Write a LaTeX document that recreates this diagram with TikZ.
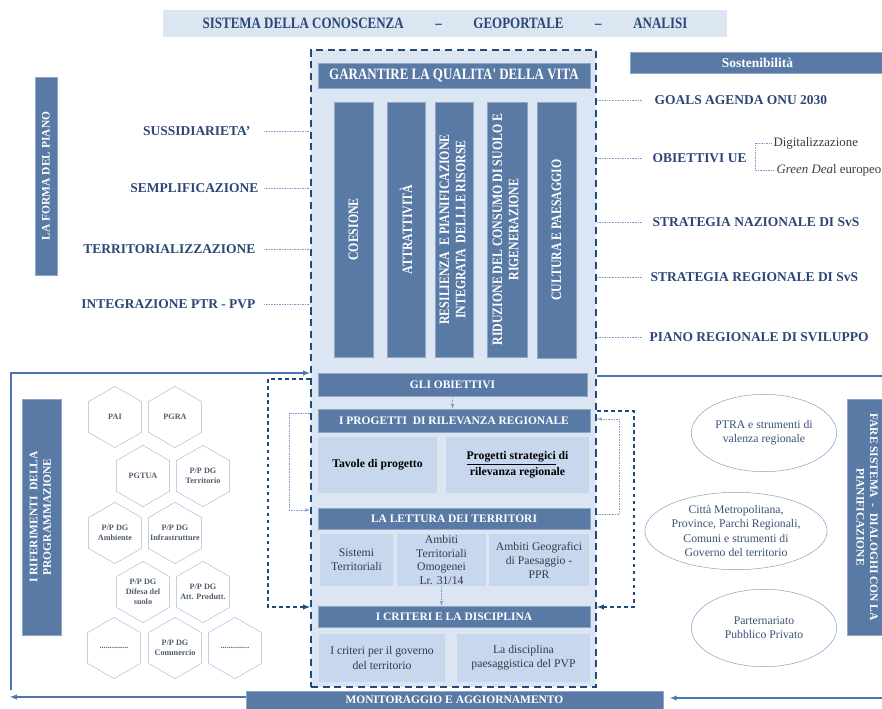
\documentclass[tikz,border=0pt]{standalone}
\usepackage{fontspec}
\setmainfont{Liberation Serif}
\newfontfamily\condfont[FakeStretch=0.82]{Liberation Serif}
\usetikzlibrary{shapes.geometric,fit}
\definecolor{barblue}{HTML}{5A7AA6}
\definecolor{barline}{HTML}{8EA6C8}
\definecolor{paleblue}{HTML}{DCE6F2}
\definecolor{boxblue}{HTML}{C6D7EE}
\definecolor{navy}{HTML}{2B4675}
\definecolor{framecol}{HTML}{1F4B7E}
\definecolor{linkblue}{HTML}{4A75B5}
\definecolor{dotblue}{HTML}{7E9CC9}
\definecolor{hexline}{HTML}{A3B8DA}
\definecolor{hextext}{HTML}{4F5B6E}
\definecolor{ovalline}{HTML}{7F9AC4}
\definecolor{ovaltext}{HTML}{3C5079}
\definecolor{boxtext}{HTML}{343B48}
\tikzset{>=latex}
\tikzset{
  corners/.style args = {#1,#2,#3,#4}{at={({(#1+#3)/2},{(#2+#4)/2})},
    minimum width={(#3-#1)*0.03cm}, minimum height={(#4-#2)*0.03cm}},
  bar/.style = {fill=barblue, draw=barline, inner sep=0pt, text=white, align=center,
    font=\bfseries\fontsize{9.8}{11.5}\selectfont},
  colbar/.style = {bar, font=\condfont\bfseries\fontsize{12.3}{14}\selectfont},
  lightbox/.style = {fill=boxblue, inner sep=0pt, text=boxtext, align=center,
    font=\fontsize{10}{12}\selectfont},
  planframe/.style = {fill=paleblue, draw=framecol, line width=1.8pt,
    dash pattern=on 6pt off 4pt, inner sep=0pt},
  goal/.style = {text=navy, inner sep=2pt, font=\bfseries\fontsize{11.5}{13}\selectfont},
  dotline/.style = {draw=dotblue, densely dotted, thin},
  link/.style = {draw=linkblue, line width=1pt},
  bigdash/.style = {draw=framecol, line width=1pt, dashed},
  hexa/.style = {regular polygon, regular polygon sides=6, shape border rotate=30,
    draw=hexline, minimum size=1.84cm, inner sep=-8pt, text=hextext, align=center,
    font=\bfseries\fontsize{7}{8.5}\selectfont},
  oval/.style = {ellipse, draw=ovalline, minimum width=4.36cm, minimum height=2.32cm,
    inner sep=0pt, text=ovaltext, align=center, font=\fontsize{10}{12}\selectfont}
}

\begin{document}
\begin{tikzpicture}[x=0.03cm,y=-0.03cm]
  \useasboundingbox (0,0) rectangle (882,709);
  % knowledge system
  \node[fill=paleblue, corners={163,10,727,37}, inner sep=0pt, text=navy,
    font=\condfont\bfseries\fontsize{13.5}{15}\selectfont] (sistema)
    {SISTEMA DELLA CONOSCENZA\qquad–\qquad GEOPORTALE\qquad–\qquad ANALISI};
  % the plan
  \node[planframe, fit={(311,50)(596,687)}] (piano) {};
  \node[bar, corners={318,63,590,88}, font=\condfont\bfseries\fontsize{13.5}{15}\selectfont]
    (vita) {GARANTIRE LA QUALITA' DELLA VITA};
  \node[colbar, corners={334,102,373,357}] (coesione) {\rotatebox{90}{COESIONE}};
  \node[colbar, corners={387,102,425,357}] (attr) {\rotatebox{90}{ATTRATTIVITÀ}};
  \node[colbar, corners={435,102,473,357}] (resil) {\rotatebox{90}{\begin{tabular}{@{}c@{}}RESILIENZA\ \ E PIANIFICAZIONE\\INTEGRATA\ \ DELLLE RISORSE\end{tabular}}};
  \node[colbar, corners={487,102,527,357}] (riduz) {\rotatebox{90}{\begin{tabular}{@{}c@{}}RIDUZIONE DEL CONSUMO DI SUOLO E\\RIGENERAZIONE\end{tabular}}};
  \node[colbar, corners={537,102,576,358}] (cultura) {\rotatebox{90}{CULTURA E PAESAGGIO}};
  \node[bar, corners={318,373,587,396}] (obj) {GLI OBIETTIVI};
  \node[bar, corners={318,409,590,432}] (prog) {I PROGETTI\ \ DI RILEVANZA REGIONALE};
  \node[lightbox, corners={318,437,437,493}, font=\bfseries\fontsize{10}{12}\selectfont,
    text=black] (tavole) {Tavole di progetto};
  \node[lightbox, corners={446,437,589,493}, font=\bfseries\fontsize{10}{13.5}\selectfont,
    text=black] (strat) {\underline{Progetti strategici} di\\rilevanza regionale};
  \node[bar, corners={318,508,590,529}] (lettura) {LA LETTURA DEI TERRITORI};
  \node[lightbox, corners={320,534,393,586}] (sistemi) {Sistemi\\Territoriali};
  \node[lightbox, corners={397,534,486,586}, font=\fontsize{10}{11.5}\selectfont]
    (ato) {Ambiti\\Territoriali\\Omogenei\\Lr. 31/14};
  \node[lightbox, corners={489,534,589,586}] (agp) {Ambiti Geografici\\di Paesaggio -\\PPR};
  \node[bar, corners={318,606,590,627}] (crit) {I CRITERI E LA DISCIPLINA};
  \node[lightbox, corners={319,634,445,682}] (govt) {I criteri per il governo\\del territorio};
  \node[lightbox, corners={457,634,590,682}] (discip) {La disciplina\\paesaggistica del PVP};
  \node[bar, corners={246,691,663,709}] (mon) {MONITORAGGIO E AGGIORNAMENTO};
  \draw[dotline,->] (obj.south) -- (obj.south |- prog.north);
  \draw[dotline,->] (ato.south) -- (ato.south |- crit.north);
  % the form of the plan
  \node[bar, corners={35,77,57,275}] (forma) {\rotatebox{90}{LA FORMA DEL PIANO}};
  \coordinate (leftgap) at (264,0);
  \node[goal, anchor=east] (sus) at (253,131) {SUSSIDIARIETA'};
  \node[goal, anchor=east] (sem) at (261,188) {SEMPLIFICAZIONE};
  \node[goal, anchor=east] (terr) at (258,249) {TERRITORIALIZZAZIONE};
  \node[goal, anchor=east] (integr) at (258,304) {INTEGRAZIONE PTR - PVP};
  \foreach \n in {sus,sem,terr,integr}
    \draw[dotline] (\n -| leftgap) -- (\n -| piano.west);
  % sustainability
  \node[bar, corners={630,52,885,73}, font=\bfseries\fontsize{11.5}{13}\selectfont]
    (sost) {Sostenibilità};
  \coordinate (rightgap) at (642,0);
  \node[goal, anchor=west] (goals) at (652,100) {GOALS AGENDA ONU 2030};
  \node[goal, anchor=west] (ue) at (650,158) {OBIETTIVI UE};
  \node[goal, anchor=west] (snsvs) at (650,222) {STRATEGIA NAZIONALE DI SvS};
  \node[goal, anchor=west] (srsvs) at (648,277) {STRATEGIA REGIONALE DI SvS};
  \node[goal, anchor=west] (prs) at (647,337) {PIANO REGIONALE DI SVILUPPO};
  \foreach \n in {goals,ue,snsvs,srsvs,prs}
    \draw[dotline] (\n -| piano.east) -- (\n -| rightgap);
  \node[anchor=west, inner sep=2pt, text=boxtext, font=\fontsize{11}{13}\selectfont]
    (digi) at (771,143) {Digitalizzazione};
  \node[anchor=west, inner sep=2pt, text=boxtext, font=\fontsize{11}{13}\selectfont]
    (green) at (774,170) {\textit{Green Dea}l europeo};
  \draw[dotline] (digi.west) -- ++(-16,0) |- (green.west);
  % programming references
  \node[bar, corners={22,399,61,635}] (rifer)
    {\rotatebox{90}{\begin{tabular}{@{}c@{}}I RIFERIMENTI\ \ DELLA\\PROGRAMMAZIONE\end{tabular}}};
  \node[hexa] (pai) at (115,417) {PAI};
  \node[hexa] (pgra) at (175,417) {PGRA};
  \node[hexa] (pgtua) at (143,476) {PGTUA};
  \node[hexa] (dgterr) at (203,476) {P/P DG\\Territorio};
  \node[hexa] (dgamb) at (115,533) {P/P DG\\Ambiente};
  \node[hexa] (dginfr) at (175,533) {P/P DG\\Infrastrutture};
  \node[hexa] (dgsuolo) at (143,592) {P/P DG\\Difesa del\\suolo};
  \node[hexa] (dgatt) at (203,592) {P/P DG\\Att. Produtt.};
  \node[hexa] (altro1) at (114,648) {..............};
  \node[hexa] (dgcomm) at (175,648) {P/P DG\\Commercio};
  \node[hexa] (altro2) at (235,648) {..............};
  % planning dialogues
  \node[bar, corners={847,399,885,635}] (fare)
    {\rotatebox{-90}{\begin{tabular}{@{}c@{}}FARE SISTEMA\ \ -\ \ DIALOGHI CON LA\\PIANIFICAZIONE\end{tabular}}};
  \node[oval] (ptra) at (764,433) {PTRA\ e strumenti di\\valenza regionale};
  \node[oval] (citta) at (736,531) {Città Metropolitana,\\Province, Parchi Regionali,\\Comuni e strumenti di\\Governo del territorio};
  \node[oval] (ppp) at (764,628) {Parternariato\\Pubblico Privato};
  % loop round the plan
  \coordinate (nw) at (11,373);
  \coordinate (swup) at (11,690);
  \coordinate (sw) at (10,697);
  \coordinate (ne) at (882,376);
  \coordinate (se) at (882,698);
  \draw[link,->] (swup) -- (nw) -- (piano.west |- nw);
  \draw[link] (piano.east |- ne) -- (ne);
  \draw[link,->] (mon.west |- sw) -- (sw);
  \draw[link,->,shorten >=2mm] (se) -- (mon.east |- se);
  % feedback
  \draw[bigdash,->] (piano.west |- 0,379) -| (268,607) -- (piano.west |- 0,607);
  \draw[dotline,->] (piano.west |- 0,413) -| (289,510) -- (piano.west |- 0,510);
  \draw[bigdash,->] (piano.east |- 0,411) -| (634,607) -- (piano.east |- 0,607);
  \draw[dotline,->] (piano.east |- 0,514) -| (619,419) -- (piano.east |- 0,419);
\end{tikzpicture}
\end{document}
